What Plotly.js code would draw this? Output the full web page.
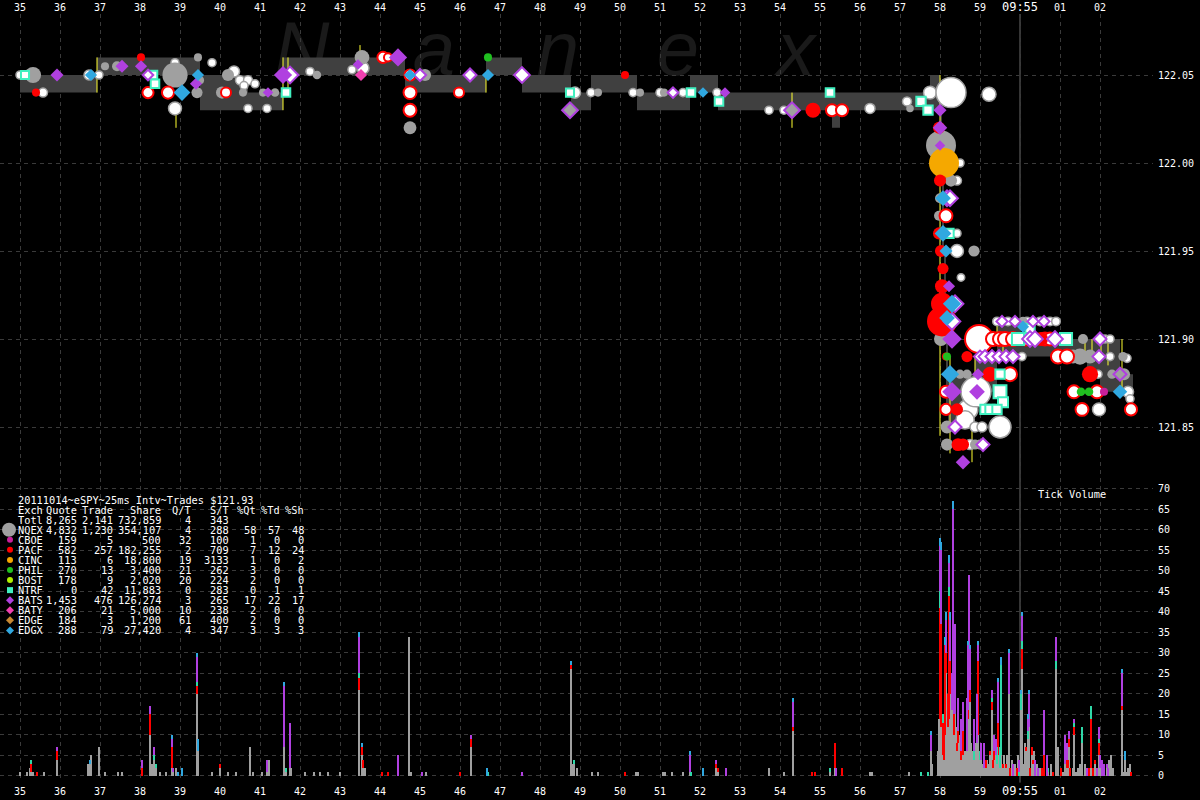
<!DOCTYPE html>
<html><head><meta charset="utf-8">
<script src="https://cdn.plot.ly/plotly-3.0.1.min.js"></script>
<style>html,body{margin:0;padding:0;background:#000}#chart{width:1200px;height:800px}</style>
</head><body><div id="chart"></div>
<script>
// ---------------- tick labels ----------------
const timeTickVals = [35,36,37,38,39,40,41,42,43,44,45,46,47,48,49,50,51,52,53,54,55,56,57,58,59,60,61,62];
const timeTickText = ['35','36','37','38','39','40','41','42','43','44','45','46','47','48','49','50','51','52','53','54','55','56','57','58','59','<span style="font-size:12px">09:55</span>','01','02'];
const priceTickVals = [121.85,121.90,121.95,122.00,122.05];
const volumeTickVals = [0,5,10,15,20,25,30,35,40,45,50,55,60,65,70];

// ---------------- NBBO (time in seconds after 09:54:00) ----------------
const nbboTime = [35.0,36.925,39.5,40.7,41.575,44.625,46.65,47.55,48.775,49.275,50.425,51.75,52.45,55.3,55.5,57.75,58.0,58.05,58.1,58.15,58.2,58.875,59.425,60.0,61.675,62.0,62.5,62.825];
const nbboBid  = [122.04,122.05,122.03,122.03,122.05,122.04,122.05,122.04,122.03,122.04,122.03,122.04,122.03,122.02,122.03,122.03,121.99,121.95,121.90,121.86,121.85,121.87,121.89,121.89,121.88,121.87,121.87,121.87];
const nbboAsk  = [122.05,122.06,122.05,122.04,122.06,122.05,122.06,122.05,122.04,122.05,122.04,122.05,122.04,122.04,122.04,122.05,122.03,121.99,121.95,121.90,121.88,121.89,121.91,121.90,121.90,121.90,121.88,121.88];

// ---------------- yellow flags ----------------
const flagTime = [36.925,38.9,41.575,41.7,43.5,46.65,54.3,58.0,58.25,58.8,58.875,59.425,59.575,61.625,61.8,62.025,62.2,62.55];
const flagLow  = [122.04,122.02,122.03,122.04,122.06,122.04,122.02,121.845,121.835,121.83,121.88,121.90,121.89,121.89,121.89,121.89,121.885,121.87];
const flagHigh = [122.06,122.03,122.06,122.06,122.067,122.05,122.04,122.05,121.89,121.85,121.89,121.91,121.90,121.90,121.90,121.90,121.90,121.90];

// ---------------- trades ----------------
const nqexTime   = [35.325,37.125,37.425,38.875,39.45,39.425,39.5,40.2,40.05,40.575,41.075,41.375,42.425,43.55,45.125,44.75,49.45,50.5,51.1,57.25,58.025,58.275,58.0,57.975,58.85,58.025,60.075,61.575,58.5,58.675,61.325,61.5,61.75,62.575,62.3,62.6,58.175,58.175,58.875,59.0];
const nqexPrice  = [122.05,122.055,122.055,122.05,122.06,122.04,122.047,122.05,122.04,122.04,122.04,122.04,122.05,122.06,122.05,122.02,122.04,122.04,122.04,122.031,122.01,121.99,121.98,121.97,121.95,121.90,121.91,121.90,121.88,121.88,121.89,121.89,121.89,121.89,121.88,121.88,121.85,121.84,121.84,121.84];
const nqexShares = [2000,150,400,6500,150,600,150,800,800,150,150,200,200,1500,800,1000,150,150,150,100,10000,800,400,400,600,1300,300,400,300,300,1300,2000,1300,300,300,800,1000,800,400,400];

const nqexOddTime   = [35.0,35.575,36.725,36.975,38.875,38.875,39.8,40.35,40.5,40.7,40.6,40.875,40.7,41.175,42.25,43.3,43.575,48.875,49.275,50.325,51.0,51.575,52.425,53.725,54.1,56.25,57.175,57.75,58.275,59.225,58.5,58.425,58.425,58.425,58.525,62.125,62.25,59.425,59.7,60.175,60.5,60.75,60.9,60.05,62.25,62.675,61.95,62.7,62.75,61.975,58.7,58.9,58.625,58.875,59.05,59.5,58.75];
const nqexOddPrice  = [122.05,122.04,122.05,122.05,122.057,122.031,122.057,122.052,122.047,122.047,122.044,122.045,122.031,122.031,122.052,122.053,122.054,122.04,122.04,122.04,122.04,122.04,122.04,122.03,122.03,122.031,122.035,122.04,122.04,122.039,122.0,121.99,121.96,121.95,121.935,121.90,121.90,121.91,121.91,121.91,121.91,121.91,121.91,121.89,121.89,121.889,121.88,121.87,121.866,121.86,121.86,121.87,121.854,121.85,121.85,121.85,121.84];
const nqexOddShares = [150,250,400,150,150,1000,150,600,250,250,150,150,150,150,150,150,800,600,150,150,150,150,150,150,150,400,250,1000,10000,1300,150,250,150,1000,100,150,150,200,200,200,200,200,200,150,150,150,150,600,150,1000,3500,10000,2800,400,400,4600,400];

const pacfTime   = [35.4,38.025,50.125,54.825,57.975,58.0,57.975,58.025,58.075,58.05,58.05,58.05,58.15,58.675,59.25,61.75,58.425,58.45,58.575,60.525];
const pacfPrice  = [122.04,122.06,122.05,122.03,122.02,121.99,121.96,121.95,121.94,121.93,121.92,121.91,121.89,121.89,121.88,121.88,121.86,121.84,121.84,121.90];
const pacfShares = [150,150,150,1600,800,800,800,800,600,1300,4600,10000,150,600,1600,2000,800,1000,800,1300];

const pacfRingTime   = [38.2,38.7,40.15,44.075,44.2,44.75,44.75,44.75,45.975,55.3,55.55,58.15,58.975,59.325,59.5,59.625,59.825,60.15,60.625,60.75,60.95,61.175,59.75,61.35,61.925,61.55,62.775,58.15,58.15];
const pacfRingPrice  = [122.04,122.04,122.04,122.06,122.06,122.04,122.03,122.05,122.04,122.03,122.03,121.97,121.90,121.90,121.90,121.90,121.90,121.90,121.90,121.90,121.89,121.89,121.88,121.87,121.87,121.86,121.86,121.86,121.87];
const pacfRingShares = [600,800,400,600,150,1000,1000,600,400,800,800,1000,8500,1300,1300,1300,1300,1000,1000,1000,1300,1300,1300,1000,1000,1000,800,600,800];

const batsTime   = [35.925,37.55,38.025,39.4,41.2,41.575,44.45,43.45,52.625,58.0,58.0,58.0,58.225,58.3,58.3,58.925,58.95,58.575];
const batsPrice  = [122.05,122.055,122.055,122.045,122.04,122.05,122.06,122.056,122.04,122.03,122.02,122.01,121.93,121.90,121.87,121.87,121.88,121.83];
const batsShares = [400,400,300,300,150,1300,1300,150,150,400,600,150,300,1600,1600,800,300,600];

const batsOpenTime   = [38.2,41.75,46.25,47.55,51.325,45.0,58.175,58.25,58.3,58.375,59.55,59.875,60.325,60.6,60.25,60.375,60.875,62.0,59.0,59.125,59.3,59.475,59.65,59.825,61.975,58.375,59.075];
const batsOpenPrice  = [122.05,122.05,122.05,122.05,122.04,122.05,121.98,121.98,121.91,121.92,121.91,121.91,121.91,121.91,121.90,121.90,121.90,121.90,121.89,121.89,121.89,121.89,121.89,121.89,121.89,121.85,121.84];
const batsOpenShares = [150,1000,400,800,150,300,800,800,1000,1000,200,200,200,200,800,800,800,400,300,400,400,400,400,400,400,400,400];

const batsGrayTime   = [48.75,54.3,62.5];
const batsGrayPrice  = [122.03,122.03,121.88];
const batsGrayShares = [800,800,400];

const edgxTime   = [36.775,39.05,39.45,44.75,46.7,52.075,58.075,58.075,58.15,58.3,58.175,58.25,60.075,62.5];
const edgxPrice  = [122.05,122.04,122.05,122.05,122.05,122.04,121.98,121.96,121.95,121.92,121.912,121.88,121.907,121.87];
const edgxShares = [300,1000,300,300,300,150,800,1000,400,1300,800,1300,300,600];

const ntrfTime   = [35.125,38.325,38.375,41.65,48.75,51.775,52.475,55.25,57.525,57.7,58.225,59.95,61.15,60.25,59.5,59.5,59.575,59.125,59.25,59.425];
const ntrfPrice  = [122.05,122.05,122.045,122.04,122.04,122.04,122.035,122.04,122.035,122.03,121.96,121.90,121.90,121.906,121.88,121.87,121.864,121.86,121.86,121.86];
const ntrfShares = [150,200,200,200,150,200,200,200,300,300,300,800,800,300,300,1000,400,300,300,300];

const cincTime = [58.1], cincPrice = [122.00], cincShares = [10000];
const philTime = [46.7,58.175,61.525,61.725], philPrice = [122.06,121.89,121.87,121.87], philShares = [150,150,200,200];
const batyTime = [43.525], batyPrice = [122.05], batyShares = [300];
const cboeTime = [62.1], cboePrice = [121.87], cboeShares = [150];

// ---------------- tick volume (per 25ms interval) ----------------
const volTime = [
 35.0,35.175,35.25,35.275,35.325,35.425,35.6,35.925,36.7,36.75,
 36.775,36.975,37.125,37.45,37.55,38.05,38.25,38.3,38.35,38.4,
 38.5,38.65,38.8,38.825,38.9,38.95,39.05,39.425,39.45,39.8,
 40.0,40.2,40.4,40.75,40.825,41.05,41.175,41.225,41.6,41.65,
 41.75,41.775,42.125,42.35,42.5,42.7,43.0,43.475,43.55,43.575,
 43.625,44.05,44.2,44.45,44.725,44.775,45.05,45.15,46.0,46.275,
 46.675,46.7,47.55,48.775,48.8,48.85,48.925,49.3,49.45,50.125,
 50.4,50.45,51.075,51.125,51.3,51.575,51.75,51.775,52.075,52.4,
 52.45,52.65,53.725,54.1,54.325,54.8,54.875,55.25,55.375,55.4,
 55.55,56.25,56.3,57.225,57.525,57.7,57.775,57.8,57.95,57.975,
 58.0,58.025,58.05,58.075,58.1,58.125,58.15,58.175,58.2,58.225,
 58.25,58.275,58.3,58.325,58.35,58.375,58.4,58.425,58.45,58.475,
 58.5,58.525,58.55,58.575,58.6,58.625,58.65,58.675,58.7,58.725,
 58.75,58.775,58.8,58.825,58.85,58.875,58.9,58.925,58.95,58.975,
 59.0,59.025,59.05,59.075,59.1,59.125,59.15,59.175,59.2,59.225,
 59.25,59.275,59.3,59.325,59.35,59.375,59.4,59.425,59.45,59.475,
 59.5,59.525,59.55,59.575,59.6,59.65,59.675,59.725,59.75,59.8,
 59.825,59.875,59.925,59.95,59.975,60.025,60.05,60.1,60.125,60.15,
 60.2,60.225,60.25,60.3,60.325,60.35,60.375,60.425,60.45,60.5,
 60.55,60.6,60.675,60.7,60.775,60.825,60.9,60.95,61.025,61.075,
 61.125,61.175,61.2,61.225,61.25,61.325,61.35,61.4,61.45,61.5,
 61.55,61.625,61.675,61.725,61.775,61.825,61.875,61.925,61.975,62.0,
 62.05,62.1,62.175,62.2,62.225,62.275,62.325,62.55,62.575,62.625,
 62.675,62.7,62.75,62.775];
const volNQEX = [
 1,1,2,1,1,0,1,4,3,3,
 5,7,1,1,1,0,10,3,4,2,
 1,1,2,1,2,0,0,20,6,1,
 2,1,1,7,1,1,1,4,7,1,
 2,2,1,1,1,1,1,21,5,2,
 2,0,0,0,34,1,0,1,0,7,
 0,0,0,26,3,3,2,1,1,0,
 1,1,1,1,1,1,1,0,0,2,
 1,0,2,1,11,0,0,1,2,0,
 0,1,1,1,0,0,6,3,6,14,
 14,12,12,5,4,10,25,20,12,14,
 20,15,16,18,10,15,12,6,8,5,
 10,4,4,5,6,6,3,6,14,30,
 18,8,6,5,4,5,8,8,10,5,
 4,4,2,3,2,3,2,4,3,2,
 5,3,16,2,4,3,5,3,5,2,
 2,5,3,2,5,2,5,20,0,4,
 0,3,0,5,0,16,26,3,8,6,
 9,12,0,5,3,6,0,3,0,2,
 0,0,0,1,3,0,26,7,0,1,
 3,2,2,7,0,2,10,1,2,3,
 8,3,0,0,2,0,3,0,5,2,
 0,0,2,0,4,5,2,16,1,4,
 1,2,3,0];
const volPACF = [
 0,0,0,2,0,1,0,2,0,0,
 0,0,0,0,0,2,5,0,0,0,
 0,0,5,0,0,0,0,2,0,0,
 1,0,0,0,0,0,0,0,0,0,
 0,0,0,0,0,0,0,3,2,2,
 0,1,1,0,0,0,0,0,1,2,
 0,0,0,1,0,0,0,0,0,1,
 0,0,0,0,0,0,0,0,0,1,
 1,0,0,0,1,1,1,0,6,0,
 2,0,0,0,0,0,0,0,0,0,
 27,25,3,8,6,22,5,0,8,30,
 8,0,0,0,5,0,0,2,3,0,
 0,2,0,6,0,0,0,0,2,1,
 3,0,0,0,0,0,0,0,18,0,
 0,0,0,0,0,0,2,0,0,0,
 1,0,2,2,2,0,0,0,8,0,
 0,0,0,1,0,1,0,0,2,0,
 0,0,2,0,0,0,5,0,0,1,
 0,0,2,2,1,0,0,0,0,0,
 2,5,0,0,0,1,0,0,2,0,
 0,2,2,2,2,0,2,0,0,0,
 0,0,0,2,12,2,1,0,3,0,
 0,0,0,0,0,0,0,1,0,0,
 0,0,0,1];
const volOther = [
 0,0,0,1,0,0,0,0,0,0,
 0,0,0,0,0,0,0,0,1,1,
 0,0,0,0,0,0,0,1,0,0,
 0,0,0,0,0,0,0,0,0,1,
 0,0,0,0,0,0,0,1,0,0,
 0,0,0,0,0,0,0,0,0,0,
 0,1,0,0,0,1,0,0,0,0,
 0,0,0,0,0,0,0,1,0,0,
 0,0,0,0,0,0,0,1,0,0,
 0,0,0,0,1,1,0,0,0,0,
 4,0,0,2,0,0,0,0,0,2,
 0,0,0,0,0,0,0,0,0,0,
 0,0,0,0,0,0,0,0,0,0,
 0,0,0,0,2,0,0,0,0,0,
 2,0,0,0,0,0,0,0,0,0,
 0,0,1,0,0,0,0,4,0,0,
 5,22,0,0,0,0,0,0,0,0,
 0,0,0,0,1,4,2,0,0,0,
 2,0,0,0,0,0,0,0,0,0,
 0,0,0,1,0,0,2,0,0,0,
 0,0,0,0,0,0,1,0,0,0,
 4,0,0,0,3,0,0,0,1,0,
 0,0,0,0,0,0,0,0,0,0,
 0,0,0,0];
const volBATS = [
 0,0,0,0,0,0,0,1,0,0,
 0,0,0,0,0,2,2,0,2,0,
 0,0,2,1,0,0,0,6,0,0,
 0,0,0,0,0,0,3,0,15,0,
 11,0,0,0,0,0,0,9,0,0,
 0,0,0,5,0,0,1,0,0,1,
 0,0,1,0,0,0,0,0,0,0,
 0,0,0,0,0,0,4,0,0,1,
 0,2,0,0,6,0,0,0,0,2,
 0,0,0,0,0,0,4,0,0,0,
 11,18,0,0,0,0,8,0,0,6,
 10,0,9,47,22,22,0,0,8,0,
 0,8,0,7,0,0,0,13,16,18,
 10,0,0,0,8,0,0,12,4,0,
 0,4,0,0,6,0,0,0,0,0,
 0,0,2,0,4,0,4,0,10,0,
 0,0,0,0,0,0,0,10,0,0,
 3,0,0,0,3,0,6,0,0,0,
 3,8,0,0,0,0,4,0,2,0,
 0,11,5,0,0,0,6,0,0,0,
 7,4,0,2,0,0,1,0,0,0,
 0,0,2,0,0,0,0,2,3,3,
 4,3,1,2,0,0,0,8,0,0,
 0,0,0,0];
const volEDGX = [
 0,0,0,0,0,0,0,0,0,1,
 0,0,0,0,0,0,0,0,0,0,
 0,0,1,0,0,1,2,1,3,0,
 0,0,0,0,0,0,0,0,1,0,
 0,0,0,0,0,0,0,1,1,0,
 0,0,0,0,0,0,0,0,0,0,
 2,0,0,1,0,0,0,0,0,0,
 0,0,0,0,0,0,1,0,2,0,
 0,0,0,0,1,0,0,0,0,0,
 0,0,0,0,0,0,1,0,0,0,
 2,2,0,0,0,2,2,0,0,2,
 2,0,0,2,0,0,0,0,0,0,
 0,0,0,0,0,0,0,0,1,0,
 1,0,0,0,0,0,0,0,1,0,
 0,0,0,0,0,0,0,0,0,0,
 0,0,0,0,0,0,0,0,1,0,
 0,2,0,0,0,0,0,1,0,0,
 0,0,0,0,0,1,1,0,0,0,
 1,1,0,0,0,0,0,0,0,0,
 0,0,0,0,0,0,0,0,0,0,
 0,0,0,0,0,0,0,0,0,0,
 0,0,0,0,0,0,0,0,0,0,
 0,0,0,0,0,0,0,1,0,2,
 0,0,0,0];

// ---------------- summary table ----------------
const chartTitle = '20111014~eSPY~25ms Intv~Trades $121.93';
const tableHeader = ['Exch','Quote','Trade','Share','Q/T','S/T','%Qt','%Td','%Sh'];
const exchNames  = ['Totl','NQEX','CBOE','PACF','CINC','PHIL','BOST','NTRF','BATS','BATY','EDGE','EDGX'];
const exchQuotes = ['8,265','4,832','159','582','113','270','178','0','1,453','206','184','288'];
const exchTrades = ['2,141','1,230','5','257','6','13','9','42','476','21','3','79'];
const exchShares = ['732,859','354,107','500','182,255','18,800','3,400','2,020','11,883','126,274','5,000','1,200','27,420'];
const exchQT     = ['4','4','32','2','19','21','20','0','3','10','61','4'];
const exchST     = ['343','288','100','709','3133','262','224','283','265','238','400','347'];
const exchPctQt  = ['','58','1','7','1','3','2','0','17','2','2','3'];
const exchPctTd  = ['','57','0','12','0','0','0','1','22','0','0','3'];
const exchPctSh  = ['','48','0','24','2','0','0','1','17','0','0','3'];

// ---------------- styling ----------------
const C = {nqex:'#a0a0a0', cboe:'#c8209c', pacf:'#ff0000', cinc:'#f5a800', phil:'#20c020', bost:'#b0f000',
           ntrf:'#40f0c0', bats:'#b040e0', baty:'#f040b0', edge:'#c88830', edgx:'#30a8e0', other:'#30d8a8'};
const MONO = 'DejaVu Sans Mono';
const PX_BOT = 778, PLOT_H = 764, PLOT_W = 1153;
const px2paperX = px => px / PLOT_W;
const px2paperY = py => (PX_BOT - py) / PLOT_H;
const sizeOf = sh => sh.map(s => 5 + 0.25 * Math.sqrt(s));

function trades(t, p, sh, symbol, color, lineColor, lineWidth) {
  return {type:'scatter', mode:'markers', x:t, y:p, xaxis:'x', yaxis:'y', hoverinfo:'skip', showlegend:false,
    marker:{symbol:symbol, size:sizeOf(sh), opacity:1, color:color, line:{color:lineColor || color, width:lineWidth || 0}}};
}
function vol(y, color) {
  return {type:'bar', x:volTime, y:y, xaxis:'x', yaxis:'y2', width:0.026, hoverinfo:'skip', showlegend:false,
    marker:{color:color, opacity:1, line:{width:0}}};
}

const fx = [], fy = [];
flagTime.forEach((t, i) => { fx.push(t, t, null); fy.push(flagLow[i], flagHigh[i], null); });

const data = [
  vol(volNQEX, C.nqex), vol(volPACF, C.pacf), vol(volOther, C.other), vol(volBATS, C.bats), vol(volEDGX, C.edgx),
  {type:'scatter', mode:'lines', x:nbboTime, y:nbboBid, xaxis:'x', yaxis:'y', line:{shape:'hv', width:0, color:'#3c3c3c'}, hoverinfo:'skip', showlegend:false},
  {type:'scatter', mode:'lines', x:nbboTime, y:nbboAsk, xaxis:'x', yaxis:'y', fill:'tonexty', fillcolor:'#404040', line:{shape:'hv', width:0, color:'#404040'}, hoverinfo:'skip', showlegend:false},
  {type:'scatter', mode:'lines', x:fx, y:fy, xaxis:'x', yaxis:'y', line:{color:'#ffff30', width:1}, hoverinfo:'skip', showlegend:false, connectgaps:false},
  trades(nqexOddTime, nqexOddPrice, nqexOddShares, 'circle', '#ffffff', C.nqex, 1.5),
  trades(nqexTime, nqexPrice, nqexShares, 'circle', C.nqex),
  trades(cincTime, cincPrice, cincShares, 'circle', C.cinc),
  trades(pacfRingTime, pacfRingPrice, pacfRingShares, 'circle', '#ffffff', C.pacf, 2),
  trades(pacfTime, pacfPrice, pacfShares, 'circle', C.pacf),
  trades(ntrfTime, ntrfPrice, ntrfShares, 'square', '#ffffff', C.ntrf, 2),
  trades(batsOpenTime, batsOpenPrice, batsOpenShares, 'diamond', '#ffffff', C.bats, 2),
  trades(batsGrayTime, batsGrayPrice, batsGrayShares, 'diamond', C.nqex, C.bats, 2),
  trades(batsTime, batsPrice, batsShares, 'diamond', C.bats),
  trades(edgxTime, edgxPrice, edgxShares, 'diamond', C.edgx),
  trades(philTime, philPrice, philShares, 'circle', C.phil),
  trades(batyTime, batyPrice, batyShares, 'diamond', C.baty),
  trades(cboeTime, cboePrice, cboeShares, 'circle', C.cboe),
  {type:'scatter', mode:'markers', x:[timeTickVals[0]], y:[priceTickVals[0]], xaxis:'x2', yaxis:'y', marker:{opacity:0}, hoverinfo:'skip', showlegend:false}
];

// ---------------- annotations ----------------
const ann = [];
const txt = (x, y, text, anchor, size, color) => ann.push({xref:'paper', yref:'paper', x:px2paperX(x), y:px2paperY(y), text:text,
  showarrow:false, xanchor:anchor, yanchor:'middle', font:{family:MONO, size:size || 10.3, color:color || '#ffffff'}, borderpad:0});
const rowY = i => 499.5 + i * 10.07;
txt(17, rowY(0), chartTitle, 'left');
const colRight = [78, 114, 162, 192, 230, 257, 281, 305];
txt(17, rowY(1), tableHeader[0], 'left');
for (let c = 1; c < tableHeader.length; c++) txt(colRight[c - 1], rowY(1), tableHeader[c], 'right');
const cols = [exchQuotes, exchTrades, exchShares, exchQT, exchST, exchPctQt, exchPctTd, exchPctSh];
exchNames.forEach((n, r) => {
  txt(17, rowY(r + 2), n, 'left');
  cols.forEach((arr, c) => { if (arr[r] !== '') txt(colRight[c], rowY(r + 2), arr[r], 'right'); });
});
// legend glyphs (drawn as small shapes so they do not collide with the table text)
const legendKind = [['circle', C.nqex, 7], ['circle', C.cboe, 3], ['circle', C.pacf, 3], ['circle', C.cinc, 3], ['circle', C.phil, 3], ['circle', C.bost, 3],
  ['square', C.ntrf, 3], ['diamond', C.bats, 4], ['diamond', C.baty, 4], ['diamond', C.edge, 4], ['diamond', C.edgx, 4]];
const legendShapes = [];
legendKind.forEach((g, i) => {
  const cx = i === 0 ? 9 : 10, cy = rowY(i + 3), r = g[2];
  const X = px => px2paperX(px), Y = py => px2paperY(py);
  if (g[0] === 'circle') legendShapes.push({type:'circle', xref:'paper', yref:'paper', x0:X(cx - r), x1:X(cx + r), y0:Y(cy + r), y1:Y(cy - r), fillcolor:g[1], line:{width:0}});
  else if (g[0] === 'square') legendShapes.push({type:'rect', xref:'paper', yref:'paper', x0:X(cx - r), x1:X(cx + r), y0:Y(cy + r), y1:Y(cy - r), fillcolor:g[1], line:{width:0}});
  else legendShapes.push({type:'path', xref:'paper', yref:'paper', fillcolor:g[1], line:{width:0},
    path:'M' + X(cx) + ',' + Y(cy - r) + ' L' + X(cx + r) + ',' + Y(cy) + ' L' + X(cx) + ',' + Y(cy + r) + ' L' + X(cx - r) + ',' + Y(cy) + ' Z'});
});
txt(1037, 494, 'Tick Volume', 'left');

// watermark as image below the plot
const wmLetters = ['N', 'a', 'n', 'e', 'x'];
const wmCenters = [302, 434, 558, 678, 796];
let svg = '<svg xmlns="http://www.w3.org/2000/svg" width="1153" height="100" viewBox="0 0 1153 100">';
wmLetters.forEach((l, i) => { svg += '<text x="' + wmCenters[i] + '" y="75" text-anchor="middle" font-family="Liberation Sans" font-style="italic" font-size="76" fill="#1a1a1a">' + l + '</text>'; });
svg += '</svg>';

const gridC = '#3a3a3a';
const tickFont = {family:MONO, size:10, color:'#ffffff'};
const xRange = [34.5, 63.325];
const layout = {
  width:1200, height:800,
  paper_bgcolor:'#000000', plot_bgcolor:'rgba(0,0,0,0)',
  margin:{l:0, r:47, t:14, b:22, pad:0},
  showlegend:false, hovermode:false, barmode:'stack',
  font:{family:MONO, color:'#ffffff', size:10},
  xaxis:{range:xRange, tickvals:timeTickVals, ticktext:timeTickText, showgrid:true, gridcolor:gridC, griddash:'4px,4px', gridwidth:1,
         zeroline:false, showline:false, ticks:'', tickfont:tickFont, ticklabelstandoff:6, fixedrange:true},
  xaxis2:{range:xRange, overlaying:'x', side:'top', anchor:'y', tickvals:timeTickVals, ticktext:timeTickText, showgrid:false,
          zeroline:false, showline:false, ticks:'', tickfont:tickFont, fixedrange:true},
  yaxis:{side:'right', range:[121.65057, 122.08466], tickvals:priceTickVals, ticktext:priceTickVals.map(v => v.toFixed(2)),
         showgrid:true, gridcolor:gridC, griddash:'4px,4px', zeroline:false, showline:false, ticks:'', tickfont:tickFont, ticklabelstandoff:4},
  yaxis2:{overlaying:'y', side:'right', range:[-0.49, 185.85], tickvals:volumeTickVals, showgrid:true, gridcolor:gridC, griddash:'4px,4px',
          zeroline:false, showline:false, ticks:'', tickfont:tickFont, ticklabelstandoff:4},
  shapes:[{type:'line', xref:'x', yref:'paper', x0:60, x1:60, y0:-0.006, y1:1.0, line:{color:'#6a6a6a', width:1}, layer:'below'}].concat(legendShapes),
  annotations:ann,
  images:[{source:'data:image/svg+xml;charset=utf-8,' + encodeURIComponent(svg), xref:'paper', yref:'paper', x:0, y:px2paperY(0),
           sizex:1, sizey:100 / PLOT_H, xanchor:'left', yanchor:'top', sizing:'stretch', layer:'below'}]
};
[volNQEX, volPACF, volOther, volBATS, volEDGX].forEach(a => { if (a.length !== volTime.length) console.error('volume length mismatch', a.length, volTime.length); });
Plotly.newPlot('chart', data, layout, {displayModeBar:false, staticPlot:true});
</script></body></html>
